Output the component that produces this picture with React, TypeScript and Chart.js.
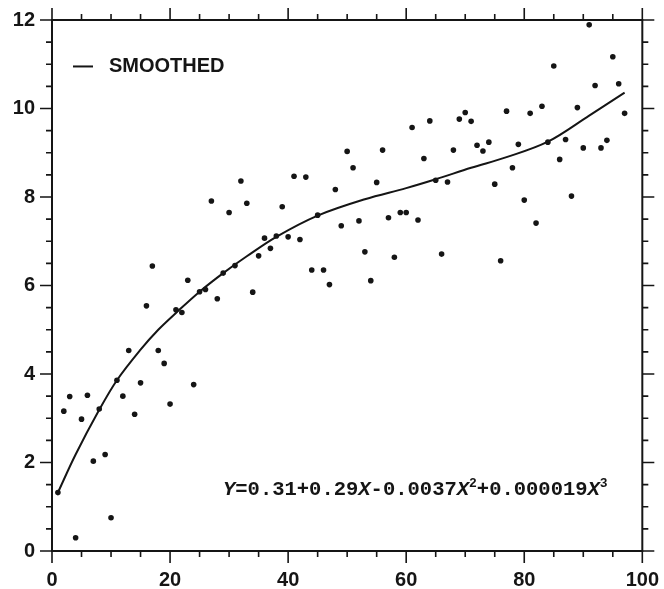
import React, { useEffect, useRef } from 'react';
import { Chart, registerables } from 'chart.js';

Chart.register(...registerables);

// Observed data (x, y)
const xValues = [
  1, 2, 3, 4, 5, 6, 7, 8, 9, 10,
  11, 12, 13, 14, 15, 16, 17, 18, 19, 20,
  21, 22, 23, 24, 25, 26, 27, 28, 29, 30,
  31, 32, 33, 34, 35, 36, 37, 38, 39, 40,
  41, 42, 43, 44, 45, 46, 47, 48, 49, 50,
  51, 52, 53, 54, 55, 56, 57, 58, 59, 60,
  61, 62, 63, 64, 65, 66, 67, 68, 69, 70,
  71, 72, 73, 74, 75, 76, 77, 78, 79, 80,
  81, 82, 83, 84, 85, 86, 87, 88, 89, 90,
  91, 92, 93, 94, 95, 96, 97,
];
const yValues = [
  1.32, 3.16, 3.49, 0.30, 2.98, 3.52, 2.03, 3.21, 2.18, 0.75,
  3.86, 3.50, 4.53, 3.09, 3.80, 5.54, 6.44, 4.53, 4.24, 3.32,
  5.45, 5.39, 6.12, 3.76, 5.86, 5.91, 7.91, 5.70, 6.28, 7.65,
  6.45, 8.36, 7.86, 5.85, 6.67, 7.07, 6.84, 7.12, 7.78, 7.10,
  8.47, 7.04, 8.45, 6.35, 7.59, 6.35, 6.02, 8.17, 7.35, 9.03,
  8.66, 7.46, 6.76, 6.11, 8.33, 9.06, 7.53, 6.64, 7.65, 7.65,
  9.57, 7.48, 8.87, 9.72, 8.38, 6.71, 8.34, 9.06, 9.76, 9.91,
  9.71, 9.17, 9.04, 9.24, 8.29, 6.56, 9.94, 8.66, 9.19, 7.93,
  9.89, 7.41, 10.05, 9.24, 10.96, 8.85, 9.30, 8.02, 10.02, 9.11,
  11.89, 10.52, 9.11, 9.28, 11.17, 10.56, 9.89,
];

// Smoothed curve
const curveX = [1, 4, 8, 11, 15, 18, 21, 25, 29, 33, 38, 45, 53, 60, 65, 71, 77, 84, 91, 97];
const curveY = [1.32, 2.18, 3.19, 3.86, 4.55, 5.0, 5.38, 5.86, 6.28, 6.66, 7.1, 7.58, 7.95, 8.2, 8.4, 8.66, 8.9, 9.25, 9.84, 10.36];

const xMin = 0;
const xMax = 100;
const xMajorStep = 20;
const xMinorStep = 5;
const yMin = 0;
const yMax = 12;
const yMajorStep = 2;
const yMinorStep = 0.5;

const legendLabel = 'SMOOTHED';
// equation pieces: text, italic, superscript
const equationParts: [string, boolean, boolean][] = [
  ['Y', true, false],
  ['=0.31+0.29', false, false],
  ['X', true, false],
  ['-0.0037', false, false],
  ['X', true, false],
  ['2', false, true],
  ['+0.000019', false, false],
  ['X', true, false],
  ['3', false, true],
];

const INK = '#151515';

const framePlugin = {
  id: 'framePlugin',
  afterDraw(chart: any) {
    const { ctx, chartArea } = chart;
    const { left, right, top, bottom } = chartArea;
    const xs = chart.scales.x;
    const ys = chart.scales.y;
    ctx.save();
    ctx.strokeStyle = INK;
    ctx.lineWidth = 2;
    ctx.strokeRect(left, top, right - left, bottom - top);
    ctx.lineWidth = 1.6;
    ctx.beginPath();
    const nx = Math.round((xMax - xMin) / xMinorStep);
    for (let i = 0; i <= nx; i++) {
      const v = xMin + i * xMinorStep;
      const major = Math.abs(v / xMajorStep - Math.round(v / xMajorStep)) < 1e-6;
      const len = major ? 12 : 6;
      const px = xs.getPixelForValue(v);
      ctx.moveTo(px, bottom);
      ctx.lineTo(px, bottom + len);
      ctx.moveTo(px, top);
      ctx.lineTo(px, top - len);
    }
    const ny = Math.round((yMax - yMin) / yMinorStep);
    for (let i = 0; i <= ny; i++) {
      const v = yMin + i * yMinorStep;
      const major = Math.abs(v / yMajorStep - Math.round(v / yMajorStep)) < 1e-6;
      const len = major ? 12 : 6;
      const py = ys.getPixelForValue(v);
      ctx.moveTo(left, py);
      ctx.lineTo(left - len, py);
      ctx.moveTo(right, py);
      ctx.lineTo(right + len, py);
    }
    ctx.stroke();

    // legend
    ctx.lineWidth = 2;
    ctx.beginPath();
    const ly = ys.getPixelForValue(10.95);
    ctx.moveTo(left + 21, ly);
    ctx.lineTo(left + 41, ly);
    ctx.stroke();
    ctx.fillStyle = INK;
    ctx.font = 'bold 20px "Liberation Sans", Arial, sans-serif';
    ctx.textBaseline = 'middle';
    ctx.textAlign = 'left';
    ctx.fillText(legendLabel, left + 57, ly);

    // equation
    let ex = left + 171;
    const ey = ys.getPixelForValue(1.38);
    ctx.textBaseline = 'middle';
    for (const [t, it, sup] of equationParts) {
      if (sup) {
        ctx.font = 'bold 13px "Liberation Mono", "Courier New", monospace';
        ctx.fillText(t, ex, ey - 6);
      } else {
        ctx.font = (it ? 'italic ' : '') + 'bold 20.5px "Liberation Mono", "Courier New", monospace';
        ctx.fillText(t, ex, ey);
      }
      ex += ctx.measureText(t).width;
    }
    ctx.restore();
  },
};

export default function App() {
  const canvasRef = useRef<HTMLCanvasElement | null>(null);

  useEffect(() => {
    const canvas = canvasRef.current;
    if (!canvas) return;
    const points = xValues.map((x, i) => ({ x, y: yValues[i] }));
    const curve = curveX.map((x, i) => ({ x, y: curveY[i] }));
    const tickFont = { family: '"Liberation Sans", Arial, sans-serif', size: 20, weight: 'bold' as const };
    const chart = new Chart(canvas, {
      type: 'scatter',
      data: {
        datasets: [
          {
            label: 'data',
            data: points,
            pointRadius: 2.8,
            pointBackgroundColor: INK,
            pointBorderWidth: 0,
            borderColor: INK,
          },
          {
            label: legendLabel,
            data: curve,
            showLine: true,
            pointRadius: 0,
            borderColor: INK,
            borderWidth: 2,
            tension: 0.35,
          } as any,
        ],
      },
      options: {
        animation: false,
        responsive: true,
        maintainAspectRatio: false,
        devicePixelRatio: 1,
        layout: { padding: { left: 0, right: 19, top: 20, bottom: 0 } },
        plugins: { legend: { display: false }, tooltip: { enabled: false } },
        scales: {
          x: {
            type: 'linear',
            min: xMin,
            max: xMax,
            afterFit: (s: any) => { s.height = 38; },
            border: { display: false },
            grid: { display: true, drawOnChartArea: false, drawTicks: true, tickLength: 12, color: 'rgba(0,0,0,0)' },
            ticks: { stepSize: xMajorStep, color: INK, font: tickFont, padding: 5, maxRotation: 0 },
          },
          y: {
            type: 'linear',
            min: yMin,
            max: yMax,
            afterFit: (s: any) => { s.width = 52; },
            border: { display: false },
            grid: { display: true, drawOnChartArea: false, drawTicks: true, tickLength: 12, color: 'rgba(0,0,0,0)' },
            ticks: { stepSize: yMajorStep, color: INK, font: tickFont, padding: 5 },
          },
        },
      },
      plugins: [framePlugin],
    });
    return () => chart.destroy();
  }, []);

  return (
    <div style={{ position: 'absolute', left: 0, top: 0, width: 664, height: 589, background: '#fff' }}>
      <canvas ref={canvasRef} />
    </div>
  );
}
